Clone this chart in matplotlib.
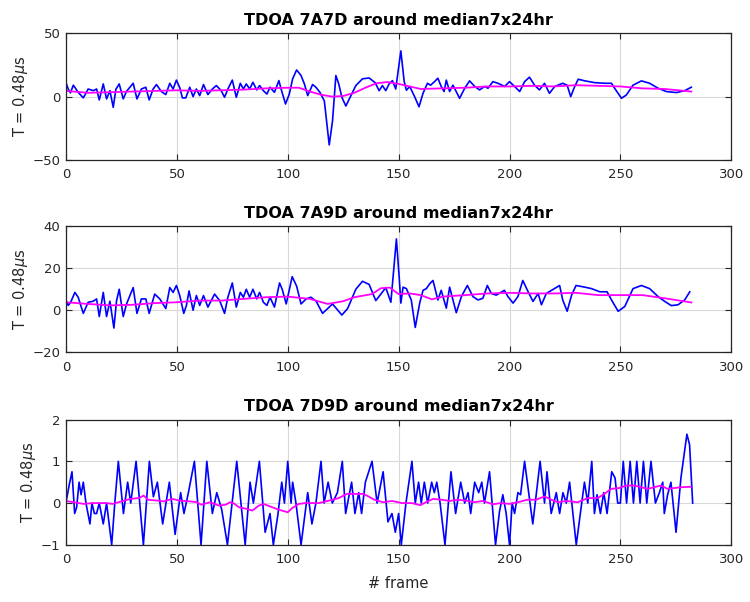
# -*- coding: utf-8 -*-
# TDOA around median (7x24hr) for three station pairs, three stacked panels

import numpy as np
import matplotlib
matplotlib.use('Agg')
import matplotlib.pyplot as plt

# ---- 7A7D -----------------------------------------------------------------
f1 = [0, 1, 2, 3.3, 5.5, 7.8, 10, 12.3, 13.8, 15, 16.8, 18.3, 19.8, 21.3, 22.5, 24, 25.8, 27.3,
      30.3, 32, 34, 36, 37.5, 39.3, 40.8, 43, 45, 46.8, 48.3, 49.8, 51.3, 52.5, 54, 55.8, 57.3,
      58.8, 60.3, 62, 64, 66, 67.8, 70, 71.5, 73, 75, 76.8, 78.6, 80, 81.3, 82.8, 84.3, 86, 87.3,
      89, 90.6, 92, 94, 96, 97, 99, 100.7, 102.2, 104, 106, 107.5, 109, 111.2, 112.7, 114.5,
      116.5, 118.7, 120.2, 121.7, 123, 124.4, 126.2, 128.5, 130.7, 133.7, 136.7, 139.4, 141.2,
      142.7, 144.2, 145.7, 147.2, 148.7, 151, 152.5, 153.5, 155, 157.2, 159.2, 161, 163, 164.4,
      166.2, 167.7, 169.2, 170.5, 171.5, 173, 174.5, 177.5, 179.8, 182, 184.3, 186.5, 188.8,
      190.3, 192.5, 194.8, 197.8, 200, 202.3, 204.6, 206.8, 209, 211.3, 213.5, 215.8, 218,
      220.4, 224, 226, 227.6, 229.4, 231, 234, 238.4, 243, 246, 247.4, 250.5, 252.7, 255.7,
      259.5, 263.2, 267, 270.7, 275.3, 279, 282]
t1 = [11, 6, 3, 9, 3.4, -1, 6, 4.7, 6, -2.6, 10, -1.8, 4.7, -8.4, 5.8, 10, -1.8, 4.2,
      10.5, -1.8, 6, 7.4, -2.6, 6, 9.5, 4, 1.6, 10.5, 6, 13, 7, -1, -1, 7.4, 0,
      6, 0.8, 9.5, 1.6, 6, 8.7, 4.7, -0.5, 6, 13, -0.5, 10.5, 6, 10, 6, 11.3, 5.3, 8.7,
      4.7, 2, 7.4, 3.4, 12.6, 6, -5.8, 2, 14, 21, 16.6, 10, 0.8, 9.5, 7.4, 3.4,
      -3.4, -38, -19, 16.6, 10, -0.5, -7.4, 0.8, 8.7, 14, 14.7, 11, 4.7,
      8.7, 4.7, 10, 12.6, 6, 36, 12, 5, 8, 0, -8, 2.6, 10.5, 9,
      11.8, 14.5, 8, 4, 13, 4, 9, -1.3, 6.6, 12.4, 8, 5.3, 8,
      6.6, 11.8, 10.5, 8, 11.8, 8, 4, 11.8, 15.3, 9, 5.3, 10.5, 2.6,
      8, 10.5, 9, 0, 8, 13.7, 12.4, 11, 10.5, 10.5, 6.6, -1.3, 1.3, 9,
      12.4, 10.5, 6.6, 4, 3.2, 4.7, 7.4]
m1_f = [0, 10, 20, 30, 40, 50, 60, 70, 80, 90, 100, 105, 110, 115, 120, 125, 130, 135, 140,
        145, 150, 155, 160, 170, 180, 190, 200, 210, 220, 230, 240, 250, 260, 270, 282]
m1 = [4.5, 3, 3.5, 4, 4.5, 5, 4.5, 5, 5.5, 6.5, 7, 7, 4, 1.5, 0, 0.5, 3, 7, 10.5,
      11.5, 10, 8, 6, 6.5, 7, 8, 8, 8.5, 8, 9, 8.5, 8, 6.5, 6, 4]

# ---- 7A9D -----------------------------------------------------------------
f2 = [0, 1, 2.1, 4, 5.5, 7.8, 10, 12.3, 13.8, 15, 16.8, 18.3, 19.8, 21.6, 22.8, 24, 25.8, 27.3,
      30.3, 32, 34, 36, 37.5, 40, 42.3, 45, 46.8, 48.3, 49.8, 51.3, 53.1, 54.3, 55.5, 57.3,
      58.8, 60.3, 62, 64, 67, 69.3, 71.5, 73, 75, 76.8, 78.6, 80, 81.3, 82.8, 84.3, 86, 87.3,
      89, 90.6, 92, 94, 96.3, 97.5, 99.3, 102, 104, 106, 108.3, 110.5, 112.8, 115.7, 118,
      120.2, 124.4, 127, 130.7, 133.7, 136.7, 139.7, 142, 144.2, 146.5, 149, 150.3, 151, 152,
      153.5, 155.7, 157.5, 159.5, 161, 162.5, 164, 165.5, 167.7, 169.2, 171.5, 173, 176,
      178.3, 181, 183.5, 185.8, 188, 190, 191.8, 194, 197.7, 199.3, 201.6, 203.8, 206, 208.4,
      210.6, 212.9, 214.4, 216.6, 219, 222.6, 224, 226, 228, 230, 234, 237, 240.7, 244, 246,
      249, 252, 255.7, 259.5, 263.2, 267, 270, 273, 276, 279, 281.3]
t2 = [4.6, 2.3, 3.8, 8.5, 6.2, -1.5, 3.8, 4.3, 5.4, -3, 8.5, -3, 4.3, -8.5, 4.6, 10, -3, 3,
      10.8, -1.5, 5.4, 5.4, -1.5, 7.7, 5.4, 0.8, 10.8, 8.5, 11.8, 7, -1.5, 2.3, 9.2, 0,
      7, 2.3, 7, 1.5, 7.7, 4.6, -1.5, 6.2, 13, 1.5, 8.5, 6.2, 10, 6.2, 10, 5.4, 8.5,
      3.8, 2.3, 6.2, 1.5, 13, 10, 3, 16, 11.5, 3, 5.4, 6.2, 4.3, -1.5, 0.8,
      3, -2.3, 0.8, 10, 13.8, 12.3, 4.6, 7.7, 10.8, 3.8, 34, 15, 3.4, 11,
      10.3, 4.9, -8.2, 3.4, 9.5, 10.3, 12.6, 14.2, 4.9, 9.5, 1, 11, -1.2,
      6.5, 11.8, 6.5, 4.9, 5.7, 11.8, 8, 7.2, 9.5, 6.5, 3.4, 6.5, 14.2, 8.8,
      4.2, 8, 2.6, 8, 9.5, 11.8, 4.9, -0.5, 7.2, 11.8, 11, 10.3, 8.8, 8.8, 4.9,
      -0.5, 1.8, 10.3, 11.8, 10.3, 6.5, 4.2, 2.2, 2.6, 4.9, 8.8]
m2_f = [0, 10, 20, 30, 40, 50, 60, 70, 80, 90, 100, 110, 118, 125, 130, 138, 142, 146, 150,
        155, 160, 165, 170, 180, 190, 200, 210, 220, 230, 240, 250, 260, 270, 282]
m2 = [3.8, 3, 2.3, 2.6, 3.4, 3.8, 4.6, 4.6, 5.4, 6.2, 6.5, 5.4, 3, 4.3, 6.2, 7.7, 10.5, 10.8, 7.7,
      8, 7.2, 5.2, 6.5, 7.2, 8, 8.3, 8, 8, 8.3, 7.2, 7.2, 7.2, 5.7, 3.7]

# ---- 7D9D -----------------------------------------------------------------
f3 = [0.3, 1.5, 2.7, 3.9, 4.8, 5.9, 6.8, 7.8, 9, 10.8, 11.7, 12.8, 13.8, 15, 16.8, 18.3, 20.6,
      22, 23.6, 25.9, 27.8, 29.2, 31.6, 34.9, 37.6, 39.4, 41.2, 43.6, 46.6, 49.2, 51.7, 53.2,
      55.2, 57.9, 60.9, 63.5, 66, 68, 70.2, 72.8, 77, 80.8, 83, 84.5, 87.2, 89.8, 92, 93.5,
      95.5, 97.3, 98.5, 100, 101.5, 102.2, 103.7, 106, 109, 110.9, 112.7, 115, 116.4, 118.2,
      120.1, 122.4, 124.6, 126.1, 128.8, 130.3, 132, 133.3, 135, 138, 140.3, 143, 145.2, 147,
      148.5, 150, 151.2, 153.3, 156, 157.5, 159, 160.2, 161.6, 163.1, 164.9, 166.1, 167.2,
      168.7, 170.9, 173.6, 175.7, 178, 179.8, 181.3, 182.5, 184.3, 186.1, 187.5, 188.7, 191,
      193.7, 195.5, 197, 198.5, 200, 201.2, 202.3, 203.8, 205, 206.8, 210.5, 213.8, 215.8,
      216.9, 218.8, 221.1, 222.6, 224.1, 225.6, 227.1, 230.1, 233.8, 235.3, 237.1, 238.3,
      239.5, 241, 242.5, 244, 246.1, 247.6, 248.8, 250, 251.3, 252.8, 254.4, 255.9, 257.4,
      258.9, 260.4, 261.9, 263.8, 265.8, 267.6, 269.1, 269.8, 271.3, 272.8, 275.1, 277.3,
      280, 281.2, 282.6]
t3 = [0.1, 0.45, 0.75, -0.25, -0.1, 0.5, 0.2, 0.5, 0, -0.5, 0, -0.25, -0.25, 0, -0.5, 0, -1,
      0, 1, -0.25, 0.5, 0, 1, -1, 1, 0.15, 0.5, -0.5, 0.5, -0.75, 0.25, -0.25,
      0.25, 1, -1, 1, -0.25, 0.25, -0.15, -1, 1, -1, 0.5, 0, 1, -0.7, -0.25, -1,
      -0.3, 0.5, 0, 1, 0, 0.5, 0, -1, 0.25, -0.5, 0, 1, 0, 0.5,
      0, 0.25, 1, -0.25, 0.5, -0.25, 0.25, -0.25, 0.5, 1, 0, 0.75, -0.45, -0.25,
      -0.7, -0.25, -1, 0, 1, 0, 0.5, 0, 0.5, 0, 0.5, 0.25, 0.5,
      0, -1, 0.75, -0.25, 0.5, 0, 0.25, -0.25, 0.5, 0.25, 0.5, 0, 0.75,
      -1, -0.2, 0.2, -0.25, -1, 0, -0.25, 0.25, 0.2, 1, -0.5, 1, 0,
      0.75, -0.25, 0.25, -0.25, 0.25, 0, 0.5, -1, 0.5, 0, 1, -0.25,
      0.2, -0.25, 0.25, -0.25, 0.75, 0.6, 0, 0, 1, 0, 1, 0, 1,
      0, 1, 0, 1, 0, 0.25, 0.5, -0.25, 0.2, 0.5, -0.7, 0.6,
      1.65, 1.4, 0]
m3_f = [0, 8, 12, 18, 21, 25, 29, 33, 35, 37, 41, 44, 48, 51, 56, 59, 61, 65, 69, 72, 74, 75.5,
        78, 81.5, 84, 87, 89, 92, 96, 100, 102, 105, 108, 114, 118, 123, 126.7, 130.4, 134,
        136.4, 139, 143, 147, 151.5, 156, 159.7, 163.4, 165.6, 169.4, 173, 176.9, 181.3, 184,
        188, 192.5, 196, 200, 203.8, 208, 212, 215.8, 218.8, 221.8, 225.6, 230.8, 235.3,
        239.8, 242.8, 245.8, 249.5, 252.5, 256.3, 259.3, 262.3, 265.3, 268.3, 271.3, 274.3,
        277.3, 281.8]
m3 = [0.05, -0.02, 0, 0, -0.02, 0.04, 0.1, 0.12, 0.18, 0.08, 0.06, 0.04, 0.1, 0.06, 0.04, 0.02,
      -0.04, 0.02, -0.06, -0.04, 0.02, 0, -0.1, -0.14, -0.18, -0.06, -0.02, -0.08, -0.16, -0.22,
      -0.12, -0.02, 0, 0, 0.05, 0.12, 0.22, 0.22, 0.22, 0.16, 0.08, 0.02, 0.05, 0, 0, -0.05,
      0.05, 0.1, 0.08, 0.05, 0.08, 0.05, 0.02, 0.05, -0.03, 0, -0.02, 0.02, 0.08, 0.08, 0.16,
      0.08, 0.02, 0.05, 0.02, 0.12, 0.12, 0.22, 0.34, 0.36, 0.42, 0.42, 0.38, 0.34, 0.38, 0.42,
      0.34, 0.36, 0.38, 0.39]

titles = ['TDOA 7A7D around median7x24hr',
          'TDOA 7A9D around median7x24hr',
          'TDOA 7D9D around median7x24hr']
ylims = [(-50, 50), (-20, 40), (-1, 2)]
yticks = [[-50, 0, 50], [-20, 0, 20, 40], [-1, 0, 1, 2]]
xticks = [0, 50, 100, 150, 200, 250, 300]

axcol = '#262626'
plt.rcParams['font.family'] = 'DejaVu Sans'

fig = plt.figure(figsize=(7.5, 6.02), dpi=100)

# axes boxes in figure fractions [left, bottom, width, height]
positions = [[0.088, 0.734, 0.887, 0.211],
             [0.088, 0.415, 0.887, 0.209],
             [0.088, 0.095, 0.887, 0.208]]

series = [(f1, t1, m1_f, m1), (f2, t2, m2_f, m2), (f3, t3, m3_f, m3)]

for i in range(3):
    ax = fig.add_axes(positions[i])
    fr, tv, mf, mv = series[i]
    ax.plot(fr, tv, color='blue', lw=1.2)
    ax.plot(mf, mv, color='magenta', lw=1.3)

    ax.set_xlim(0, 300)
    ax.set_ylim(*ylims[i])
    ax.set_xticks(xticks)
    ax.set_yticks(yticks[i])
    ax.grid(True, color='#d9d9d9', lw=0.8)
    ax.set_axisbelow(True)

    ax.tick_params(direction='in', top=True, right=True, length=4, width=0.8,
                   colors=axcol, labelsize=9.5)
    ax.tick_params(axis='x', pad=6)
    ax.tick_params(axis='y', pad=4)
    for sp in ax.spines.values():
        sp.set_color(axcol)
        sp.set_linewidth(0.9)

    ax.set_title(titles[i], fontsize=11.5, fontweight='bold', color='black', pad=6)
    ax.set_ylabel(r'T = 0.48$\mu$s', fontsize=10.5, color=axcol, labelpad=2)

    if i == 2:
        ax.set_xlabel('# frame', fontsize=10.5, color=axcol, labelpad=7)

fig.savefig('out.png', dpi=100)
